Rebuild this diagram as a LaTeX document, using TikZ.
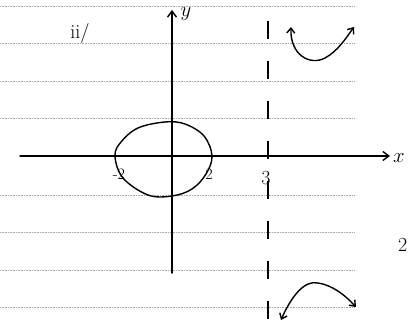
\documentclass[tikz,border=0pt]{standalone}
\usetikzlibrary{arrows.meta}
\begin{document}
\begin{tikzpicture}[x=1pt,y=-1pt,
  rule/.style={gray!70,densely dotted,line width=0.6pt},
  ink/.style={black,line width=1.4pt,line cap=round},
  axis/.style={ink,-{Straight Barb[length=6pt,width=9pt]}},
  hand/.style={font=\fontsize{20}{22}\selectfont,inner sep=0pt},
  small/.style={font=\fontsize{16}{18}\selectfont,inner sep=0pt}]
\useasboundingbox (0,0) rectangle (408,326);
% ruled lines
\foreach \yy in {6,43,81,118,195,232,270,307}
  \draw[rule] (0,\yy) -- (355,\yy);
% axes
\coordinate (xs) at (20,156);
\coordinate (xe) at (390,156);
\coordinate (ys) at (172,273);
\coordinate (ye) at (172,10);
\draw[axis] (xs) -- (xe);
\draw[axis] (ys) -- (ye);
\node[hand] (xl) at (399,158) {$x$};
\node[hand] (yl) at (186,14) {$y$};
% ellipse
\draw[ink] plot[smooth cycle,tension=0.6] coordinates
  {(115,156) (123,178) (148,195) (172,196) (192,189) (206,174) (212,156)
   (204,136) (185,124) (165,122) (138,128) (121,142)};
% labels
\node[small] (m2) at (119,174) {-2};
\node[small] (p2) at (209,174) {2};
\node[hand] (p3) at (266,178) {3};
\node[hand] (ii) at (80,34) {ii/};
\node[hand,anchor=west] (r2) at (398,245) {2};
% dashed asymptote
\coordinate (da) at (268,21);
\coordinate (db) at (268,326);
\draw[black,line width=1.1pt,dash pattern=on 18pt off 22pt] (da) -- (db);
% branch sketches
\coordinate (a1) at (291,27);
\coordinate (a2) at (354,27);
\draw[ink,{Straight Barb[length=5pt,width=8pt]}-{Straight Barb[length=5pt,width=8pt]}]
  (a1) .. controls (290,55) and (310,66) .. (325,58) .. controls (338,51) and (346,38) .. (a2);
\coordinate (b1) at (281,320);
\coordinate (b2) at (356,307);
\draw[ink,{Straight Barb[length=5pt,width=8pt]}-{Straight Barb[length=5pt,width=8pt]}]
  (b1) .. controls (292,295) and (305,280) .. (318,283) .. controls (332,285) and (345,295) .. (b2);
\end{tikzpicture}
\end{document}
